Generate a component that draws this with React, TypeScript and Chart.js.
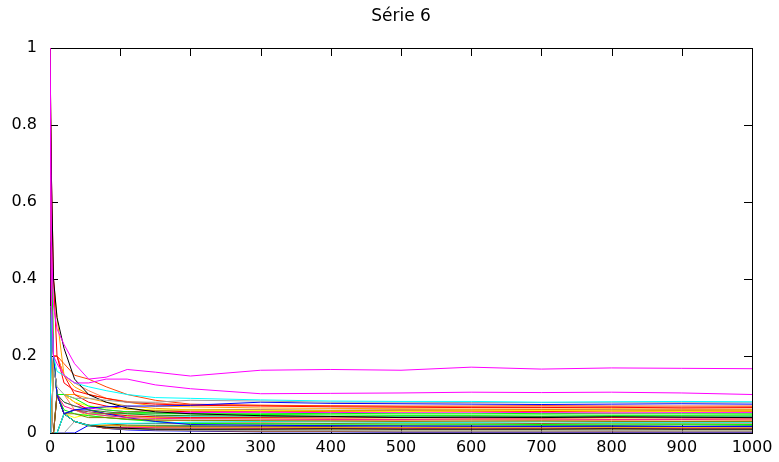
import React, { useEffect, useRef } from "react";
import { Chart, registerables } from "chart.js";

Chart.register(...registerables);

const TITLE = "Série 6";
const xs = [0, 2, 5, 10, 20, 35, 55, 80, 110, 150, 200, 300, 400, 500, 600, 700, 800, 900, 1000];
const xTicks = [0, 100, 200, 300, 400, 500, 600, 700, 800, 900, 1000];
const yTicks = [0, 0.2, 0.4, 0.6, 0.8, 1];

const s01 = [1, 0.5, 0.33, 0.27, 0.23, 0.18, 0.14, 0.145, 0.165, 0.158, 0.148, 0.163, 0.165, 0.163, 0.171, 0.166, 0.169, 0.168, 0.167];
const s02 = [1, 0.33, 0.2, 0.18, 0.15, 0.13, 0.13, 0.14, 0.14, 0.125, 0.115, 0.102, 0.103, 0.104, 0.106, 0.105, 0.106, 0.104, 0.1];
const s03 = [0, 0.33, 0.2, 0.16, 0.15, 0.13, 0.12, 0.11, 0.1, 0.092, 0.09, 0.086, 0.083, 0.082, 0.082, 0.08, 0.081, 0.082, 0.081];
const s04 = [0, 0, 0.17, 0.12, 0.1, 0.09, 0.09, 0.085, 0.08, 0.08, 0.085, 0.083, 0.08, 0.08, 0.079, 0.079, 0.08, 0.08, 0.08];
const s05 = [0, 0.33, 0.2, 0.1, 0.05, 0.06, 0.065, 0.068, 0.07, 0.07, 0.072, 0.08, 0.077, 0.076, 0.075, 0.074, 0.075, 0.076, 0.075];
const s06 = [1, 0.67, 0.4, 0.3, 0.22, 0.14, 0.1, 0.08, 0.065, 0.055, 0.05, 0.045, 0.043, 0.04, 0.041, 0.04, 0.042, 0.041, 0.04];
const s07 = [1, 0.67, 0.4, 0.2, 0.13, 0.11, 0.1, 0.09, 0.08, 0.075, 0.072, 0.07, 0.068, 0.067, 0.066, 0.066, 0.067, 0.065, 0.066];
const s08 = [0, 0.33, 0.2, 0.2, 0.18, 0.15, 0.14, 0.12, 0.1, 0.085, 0.075, 0.072, 0.071, 0.07, 0.07, 0.071, 0.07, 0.07, 0.07];
const s09 = [0, 0.33, 0.2, 0.1, 0.1, 0.09, 0.07, 0.06, 0.055, 0.052, 0.05, 0.048, 0.047, 0.046, 0.046, 0.047, 0.046, 0.046, 0.047];
const s10 = [1, 0.5, 0.4, 0.3, 0.15, 0.12, 0.1, 0.09, 0.08, 0.07, 0.068, 0.065, 0.064, 0.063, 0.062, 0.062, 0.063, 0.062, 0.062];
const s11 = [0, 0, 0.2, 0.1, 0.1, 0.08, 0.07, 0.065, 0.062, 0.06, 0.06, 0.058, 0.057, 0.056, 0.057, 0.058, 0.057, 0.056, 0.057];
const s12 = [0, 0, 0, 0.1, 0.05, 0.06, 0.055, 0.05, 0.055, 0.058, 0.06, 0.06, 0.059, 0.06, 0.06, 0.061, 0.06, 0.06, 0.06];
const s13 = [0, 0.33, 0.2, 0.2, 0.15, 0.13, 0.11, 0.09, 0.082, 0.078, 0.073, 0.072, 0.07, 0.069, 0.068, 0.068, 0.067, 0.067, 0.068];
const s14 = [0, 0, 0.2, 0.1, 0.08, 0.07, 0.06, 0.055, 0.05, 0.046, 0.045, 0.044, 0.043, 0.044, 0.044, 0.043, 0.044, 0.044, 0.044];
const s15 = [1, 0.33, 0.2, 0.1, 0.07, 0.06, 0.05, 0.045, 0.04, 0.038, 0.037, 0.036, 0.035, 0.035, 0.036, 0.036, 0.035, 0.035, 0.036];
const s16 = [0, 0, 0, 0.1, 0.05, 0.05, 0.04, 0.04, 0.036, 0.034, 0.033, 0.032, 0.031, 0.03, 0.031, 0.031, 0.03, 0.03, 0.03];
const s17 = [0, 0.33, 0.2, 0.1, 0.05, 0.06, 0.06, 0.05, 0.04, 0.03, 0.022, 0.02, 0.019, 0.018, 0.018, 0.017, 0.018, 0.017, 0.017];
const s18 = [0, 0, 0.2, 0.1, 0.1, 0.08, 0.06, 0.05, 0.045, 0.042, 0.04, 0.04, 0.039, 0.04, 0.039, 0.039, 0.04, 0.039, 0.039];
const s19 = [0, 0, 0, 0, 0.05, 0.03, 0.02, 0.025, 0.025, 0.026, 0.028, 0.03, 0.029, 0.028, 0.028, 0.029, 0.028, 0.028, 0.028];
const s20 = [1, 0.5, 0.2, 0.1, 0.06, 0.05, 0.045, 0.04, 0.035, 0.03, 0.025, 0.024, 0.023, 0.023, 0.023, 0.022, 0.023, 0.023, 0.022];
const s21 = [0, 0, 0.2, 0.1, 0.08, 0.07, 0.065, 0.06, 0.055, 0.052, 0.053, 0.054, 0.053, 0.054, 0.054, 0.053, 0.052, 0.053, 0.053];
const s22 = [0, 0, 0, 0.1, 0.05, 0.03, 0.02, 0.015, 0.012, 0.01, 0.01, 0.01, 0.011, 0.01, 0.01, 0.01, 0.011, 0.01, 0.01];
const s23 = [0, 0.33, 0.2, 0.1, 0.05, 0.03, 0.02, 0.02, 0.018, 0.016, 0.015, 0.015, 0.014, 0.014, 0.014, 0.013, 0.014, 0.014, 0.013];
const s24 = [0, 0, 0, 0, 0, 0.03, 0.02, 0.015, 0.01, 0.008, 0.007, 0.006, 0.006, 0.005, 0.005, 0.005, 0.006, 0.005, 0.005];
const s25 = [0, 0, 0, 0, 0.05, 0.03, 0.02, 0.012, 0.01, 0.008, 0.006, 0.004, 0.004, 0.003, 0.003, 0.003, 0.003, 0.003, 0.003];
const s26 = [0, 0.33, 0.2, 0.1, 0.05, 0.04, 0.05, 0.045, 0.042, 0.04, 0.038, 0.037, 0.036, 0.036, 0.035, 0.036, 0.036, 0.035, 0.036];
const s27 = [0, 0, 0, 0.1, 0.1, 0.06, 0.045, 0.04, 0.036, 0.033, 0.032, 0.031, 0.032, 0.032, 0.031, 0.032, 0.032, 0.031, 0.032];
const s28 = [0, 0, 0, 0, 0.05, 0.03, 0.018, 0.02, 0.02, 0.02, 0.02, 0.021, 0.02, 0.02, 0.021, 0.02, 0.02, 0.021, 0.02];
const s29 = [0, 0, 0.2, 0.1, 0.05, 0.03, 0.02, 0.012, 0.015, 0.014, 0.013, 0.012, 0.012, 0.012, 0.011, 0.012, 0.012, 0.012, 0.012];
const s30 = [1, 0.5, 0.2, 0.1, 0.05, 0.03, 0.02, 0.012, 0.01, 0.01, 0.009, 0.008, 0.008, 0.008, 0.008, 0.008, 0.008, 0.008, 0.008];
const s31 = [0, 0, 0, 0, 0, 0, 0.02, 0.012, 0.008, 0.006, 0.005, 0.003, 0.003, 0.002, 0.002, 0.002, 0.002, 0.002, 0.002];
const s32 = [0, 0, 0.2, 0.2, 0.15, 0.1, 0.08, 0.07, 0.062, 0.058, 0.055, 0.055, 0.056, 0.055, 0.056, 0.056, 0.055, 0.056, 0.056];
const s33 = [0, 0, 0, 0.1, 0.05, 0.06, 0.05, 0.05, 0.05, 0.05, 0.05, 0.05, 0.051, 0.05, 0.05, 0.051, 0.05, 0.05, 0.05];
const s34 = [0, 0, 0, 0, 0.05, 0.06, 0.05, 0.045, 0.043, 0.042, 0.042, 0.041, 0.042, 0.042, 0.041, 0.042, 0.042, 0.041, 0.042];
const s35 = [0, 0, 0, 0.1, 0.1, 0.1, 0.09, 0.08, 0.07, 0.064, 0.06, 0.059, 0.058, 0.059, 0.058, 0.058, 0.059, 0.058, 0.058];
const s36 = [0, 0, 0.2, 0.1, 0.05, 0.03, 0.02, 0.015, 0.015, 0.016, 0.016, 0.016, 0.016, 0.015, 0.016, 0.016, 0.016, 0.016, 0.016];
const s37 = [0, 0, 0, 0, 0.05, 0.03, 0.02, 0.02, 0.024, 0.025, 0.026, 0.026, 0.025, 0.026, 0.026, 0.025, 0.026, 0.026, 0.026];

const seriesList = [s01, s02, s03, s04, s05, s06, s07, s08, s09, s10, s11, s12, s13, s14, s15, s16, s17, s18, s19, s20, s21, s22, s23, s24, s25, s26, s27, s28, s29, s30, s31, s32, s33, s34, s35, s36, s37];
const seriesColors = [
  "#ff00ff", "#ff00ff", "#00ffff", "#a0a0a0", "#0000ff", "#000000", "#ff0000", "#ff4500",
  "#00ff00", "#ffa500", "#ffff00", "#a0522d", "#ff7f50", "#228b22", "#ff1493", "#808000",
  "#0000ff", "#ff0000", "#00ffff", "#00ff00", "#ff00ff", "#000000", "#ffa500", "#a0a0a0",
  "#a0522d", "#ffff00", "#ff7f50", "#228b22", "#ff1493", "#808000", "#0000ff", "#ff0000",
  "#00ff00", "#00ffff", "#ffa500", "#000000", "#8b4513",
];

const FONT = "'DejaVu Sans', sans-serif";

const framePlugin = {
  id: "gnuframe",
  beforeDatasetsDraw(chart: any) {
    const { ctx, chartArea } = chart;
    const { left, right, top, bottom } = chartArea;
    ctx.save();
    ctx.strokeStyle = "#000";
    ctx.lineWidth = 1;
    ctx.beginPath();
    const sx = chart.scales.x;
    const sy = chart.scales.y;
    const tl = 8;
    xTicks.forEach((v) => {
      const px = Math.round(sx.getPixelForValue(v)) + 0.5;
      ctx.moveTo(px, bottom);
      ctx.lineTo(px, bottom - tl);
      ctx.moveTo(px, top);
      ctx.lineTo(px, top + tl);
    });
    yTicks.forEach((v) => {
      const py = Math.round(sy.getPixelForValue(v)) + 0.5;
      ctx.moveTo(left, py);
      ctx.lineTo(left + tl, py);
      ctx.moveTo(right, py);
      ctx.lineTo(right - tl, py);
    });
    ctx.stroke();
    ctx.strokeRect(Math.round(left) + 0.5, Math.round(top) + 0.5, Math.round(right - left), Math.round(bottom - top));
    ctx.restore();
  },
  afterDraw(chart: any) {
    const { ctx, chartArea } = chart;
    ctx.save();
    ctx.fillStyle = "#000";
    ctx.font = `17px ${FONT}`;
    ctx.textAlign = "center";
    ctx.textBaseline = "middle";
    ctx.fillText(TITLE, (chartArea.left + chartArea.right) / 2, 17);
    ctx.restore();
  },
};

export default function App() {
  const ref = useRef<HTMLCanvasElement | null>(null);
  useEffect(() => {
    if (!ref.current) return;
    const datasets = seriesList.map((s, i) => ({
      label: "s" + (i + 1),
      data: s.map((y, j) => ({ x: xs[j], y })),
      borderColor: seriesColors[i % seriesColors.length],
      backgroundColor: seriesColors[i % seriesColors.length],
      borderWidth: 1,
      pointRadius: 0,
      tension: 0,
      fill: false,
    }));
    const chart = new Chart(ref.current, {
      type: "line",
      data: { datasets },
      options: {
        responsive: false,
        animation: false,
        layout: { padding: { left: 0, right: 27, top: 48, bottom: 0 } },
        plugins: { legend: { display: false }, title: { display: false }, tooltip: { enabled: false } },
        scales: {
          x: {
            type: "linear",
            min: 0,
            max: 1000,
            afterFit: (s: any) => { s.height = 29; },
            afterBuildTicks: (s: any) => { s.ticks = xTicks.map((v) => ({ value: v })); },
            grid: { display: false, drawTicks: false },
            border: { display: false },
            ticks: { color: "#000", font: { family: FONT, size: 16 }, padding: 5, maxRotation: 0, autoSkip: false, callback: (v: any) => String(v) },
          },
          y: {
            type: "linear",
            min: 0,
            max: 1,
            afterFit: (s: any) => { s.width = 50; },
            afterBuildTicks: (s: any) => { s.ticks = yTicks.map((v) => ({ value: v })); },
            grid: { display: false, drawTicks: false },
            border: { display: false },
            ticks: { color: "#000", font: { family: FONT, size: 16 }, padding: 13, callback: (v: any) => String(v) },
          },
        },
      },
      plugins: [framePlugin],
    });
    return () => chart.destroy();
  }, []);
  return (
    <div style={{ position: "fixed", left: 0, top: 0, width: 779, height: 462, background: "#fff" }}>
      <canvas ref={ref} width={779} height={462} style={{ display: "block" }} />
    </div>
  );
}
